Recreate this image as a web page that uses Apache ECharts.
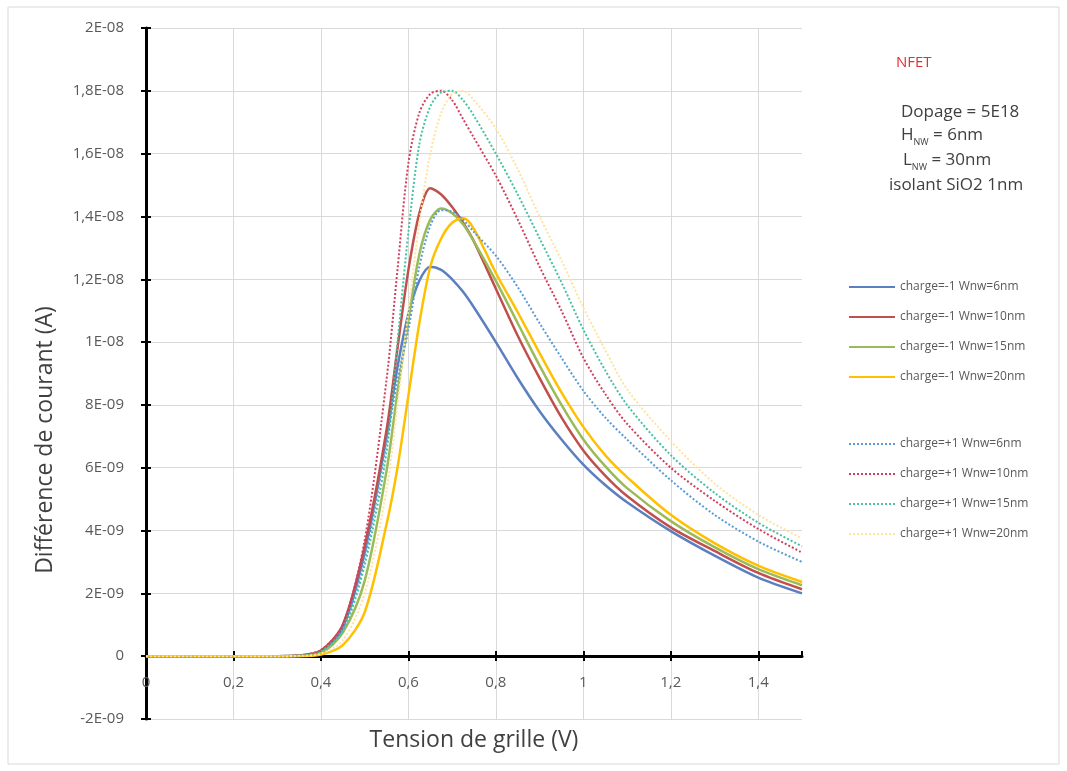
<!DOCTYPE html>
<html>
<head>
<meta charset="utf-8">
<script src="https://cdn.jsdelivr.net/npm/echarts@6/dist/echarts.min.js"></script>
<style>
html,body{margin:0;padding:0;background:#fff;}
#chart{width:1067px;height:771px;}
</style>
</head>
<body>
<div id="chart"></div>
<script>
// Gate voltage (V)
const xVals = [0, 0.1, 0.2, 0.3, 0.35, 0.4, 0.45, 0.5, 0.55, 0.575, 0.6, 0.625, 0.65, 0.675, 0.7, 0.725, 0.75, 0.8, 0.85, 0.9, 0.95, 1.0, 1.05, 1.1, 1.2, 1.3, 1.4, 1.5];
// Current difference, in units of 1E-09 A
const negW6  = [0, 0, 0, 0, 0.02, 0.15, 0.9, 3.3, 7.0, 9.2, 10.9, 11.95, 12.4, 12.3, 12.0, 11.6, 11.1, 10.0, 8.85, 7.8, 6.9, 6.1, 5.45, 4.9, 3.98, 3.2, 2.5, 2.0];
const negW10 = [0, 0, 0, 0, 0.02, 0.18, 1.0, 3.5, 7.2, 9.8, 12.3, 14.1, 14.9, 14.7, 14.3, 13.8, 13.2, 11.7, 10.2, 8.85, 7.6, 6.55, 5.75, 5.1, 4.1, 3.35, 2.65, 2.13];
const negW15 = [0, 0, 0, 0, 0.01, 0.1, 0.75, 2.4, 5.9, 8.4, 10.7, 12.8, 13.9, 14.25, 14.1, 13.75, 13.2, 11.95, 10.6, 9.25, 8.0, 6.9, 6.05, 5.35, 4.3, 3.47, 2.77, 2.26];
const negW20 = [0, 0, 0, 0, 0, 0.05, 0.35, 1.4, 4.2, 6.0, 8.3, 10.6, 12.4, 13.3, 13.8, 13.95, 13.6, 12.2, 10.95, 9.65, 8.4, 7.3, 6.4, 5.7, 4.5, 3.6, 2.88, 2.36];
const posW6  = [0, 0, 0, 0, 0.02, 0.15, 0.9, 3.1, 6.8, 8.8, 10.4, 12.4, 13.7, 14.2, 14.15, 13.9, 13.5, 12.75, 11.75, 10.6, 9.5, 8.45, 7.6, 6.9, 5.6, 4.5, 3.65, 3.0];
const posW10 = [0, 0, 0, 0, 0.03, 0.2, 1.0, 3.7, 8.8, 12.3, 15.7, 17.3, 17.9, 18.0, 17.7, 17.1, 16.5, 15.3, 13.9, 12.4, 11.0, 9.5, 8.35, 7.4, 6.0, 4.95, 4.05, 3.3];
const posW15 = [0, 0, 0, 0, 0.02, 0.15, 0.8, 2.9, 6.5, 10.0, 13.5, 16.3, 17.5, 17.95, 18.0, 17.7, 17.2, 16.0, 14.7, 13.3, 11.9, 10.4, 9.1, 8.0, 6.4, 5.2, 4.25, 3.5];
const posW20 = [0, 0, 0, 0, 0.01, 0.08, 0.5, 2.0, 5.3, 8.0, 11.0, 13.8, 16.0, 17.3, 17.9, 18.0, 17.7, 16.8, 15.5, 14.0, 12.6, 11.1, 9.75, 8.5, 6.85, 5.5, 4.5, 3.75];

const seriesNames = ['charge=-1 Wnw=6nm','charge=-1 Wnw=10nm','charge=-1 Wnw=15nm','charge=-1 Wnw=20nm',
                     'charge=+1 Wnw=6nm','charge=+1 Wnw=10nm','charge=+1 Wnw=15nm','charge=+1 Wnw=20nm'];
const seriesData = [negW6, negW10, negW15, negW20, posW6, posW10, posW15, posW20];
const colors = ['#5B7FBF','#C0504D','#9BBB59','#FFC000','#5B9BD5','#D0405E','#45C29F','#FFE3A0'];
const xTitle = 'Tension de grille (V)';
const yTitle = 'Différence de courant (A)';

function yFmt(v){
  if (Math.abs(v) < 1e-12) return '0';
  const e = Math.floor(Math.log10(Math.abs(v)) + 1e-9);
  let m = Math.round(v / Math.pow(10, e) * 10) / 10;
  const exp = e - 9;
  const es = (exp < 0 ? '-' : '+') + String(Math.abs(exp)).padStart(2, '0');
  return String(m).replace('.', ',') + 'E' + es;
}
function xFmt(v){
  return String(+v.toFixed(1)).replace('.', ',');
}

const chart = echarts.init(document.getElementById('chart'), null, {renderer: 'canvas'});
const series = seriesData.map((d, i) => ({
  name: seriesNames[i],
  type: 'line',
  xAxisIndex: 0, yAxisIndex: 0,
  data: xVals.map((x, k) => [x, d[k]]),
  smooth: 0.3,
  symbol: 'none',
  z: 2 + i,
  lineStyle: {color: colors[i], width: i < 4 ? 2.5 : 2, type: i < 4 ? 'solid' : 'dotted'},
  itemStyle: {color: colors[i]}
}));

const labelFont = {color: '#595959', fontSize: 15, fontFamily: 'Open Sans'};
const legendText = {color: '#595959', fontSize: 12, fontFamily: 'Open Sans'};
const X_MIN = 0, X_MAX = 1.5, X_INT = 0.2, Y_MIN = -2, Y_MAX = 20, Y_INT = 2;

chart.setOption({
  animation: false,
  backgroundColor: '#fff',
  grid: [
    {left: 146, right: 265, top: 28, bottom: 52, containLabel: false, outerBoundsMode: 'none'},
    {left: 146, right: 265, top: 28, bottom: 115, containLabel: false, outerBoundsMode: 'none'}
  ],
  xAxis: [{
    gridIndex: 0, type: 'value', min: X_MIN, max: X_MAX, interval: X_INT,
    axisLine: {show: false, onZero: false}, axisTick: {show: false}, axisLabel: {show: false},
    splitLine: {show: true, showMaxLine: false, lineStyle: {color: '#D9D9D9', width: 1}}
  },{
    gridIndex: 1, type: 'value', min: X_MIN, max: X_MAX, interval: X_INT, position: 'bottom',
    name: xTitle, nameLocation: 'middle', nameGap: 73,
    nameTextStyle: {color: '#404040', fontSize: 23, fontFamily: 'Open Sans'},
    axisLine: {show: true, onZero: false, lineStyle: {color: '#000', width: 3}},
    axisTick: {show: true, length: 5, lineStyle: {color: '#000', width: 2}},
    axisLabel: Object.assign({formatter: xFmt, margin: 19, showMaxLabel: false}, labelFont),
    splitLine: {show: false}
  },{
    gridIndex: 1, type: 'value', min: X_MIN, max: X_MAX, interval: X_INT, position: 'bottom',
    axisLine: {show: false, onZero: false},
    axisTick: {show: true, inside: true, length: 5, lineStyle: {color: '#000', width: 2}},
    axisLabel: {show: false}, splitLine: {show: false}
  }],
  yAxis: [{
    gridIndex: 0, type: 'value', min: Y_MIN, max: Y_MAX, interval: Y_INT,
    axisLine: {show: true, onZero: false, lineStyle: {color: '#000', width: 3}},
    axisTick: {show: true, length: 5, lineStyle: {color: '#000', width: 2}},
    axisLabel: Object.assign({formatter: yFmt, margin: 22}, labelFont),
    splitLine: {show: true, lineStyle: {color: '#D9D9D9', width: 1}}
  },{
    gridIndex: 0, type: 'value', min: Y_MIN, max: Y_MAX, interval: Y_INT, position: 'left',
    axisLine: {show: false, onZero: false},
    axisTick: {show: true, inside: true, length: 5, lineStyle: {color: '#000', width: 2}},
    axisLabel: {show: false}, splitLine: {show: false}
  },{
    gridIndex: 1, type: 'value', min: 0, max: Y_MAX, show: false
  }],
  legend: [{
    orient: 'vertical', left: 843, top: 276, itemWidth: 46, itemHeight: 14, itemGap: 18,
    data: seriesNames.slice(0, 4), textStyle: legendText,
    itemStyle: {opacity: 0}, selectedMode: false
  },{
    orient: 'vertical', left: 843, top: 433, itemWidth: 46, itemHeight: 14, itemGap: 18,
    data: seriesNames.slice(4), textStyle: legendText,
    itemStyle: {opacity: 0}, selectedMode: false
  }],
  graphic: [
    {type: 'rect', shape: {x: 8, y: 7, width: 1051, height: 757}, style: {fill: 'none', stroke: '#D9D9D9', lineWidth: 1}, silent: true, z: -10},
    {type: 'text', x: 45, y: 440, rotation: Math.PI / 2,
     style: {text: yTitle, fill: '#404040', fontSize: 23, fontFamily: 'Open Sans', align: 'center', verticalAlign: 'middle'}},
    {type: 'text', left: 896, top: 55, style: {text: 'NFET', fill: '#E03030', fontSize: 15, fontFamily: 'Open Sans'}},
    {type: 'text', left: 901, top: 104, style: {text: 'Dopage = 5E18', fill: '#404040', fontSize: 17, fontFamily: 'Open Sans'}},
    {type: 'text', left: 901, top: 127, style: {
      text: '{m|H}{s|NW}{m| = 6nm}', fill: '#404040', fontFamily: 'Open Sans',
      rich: {m: {fontSize: 17, fontFamily: 'Open Sans', fill: '#404040', verticalAlign: 'top', lineHeight: 23},
             s: {fontSize: 9, fontFamily: 'Open Sans', fill: '#404040', verticalAlign: 'top', padding: [11,0,0,0], lineHeight: 23}}}},
    {type: 'text', left: 903, top: 152, style: {
      text: '{m|L}{s|NW}{m| = 30nm}', fill: '#404040', fontFamily: 'Open Sans',
      rich: {m: {fontSize: 17, fontFamily: 'Open Sans', fill: '#404040', verticalAlign: 'top', lineHeight: 23},
             s: {fontSize: 9, fontFamily: 'Open Sans', fill: '#404040', verticalAlign: 'top', padding: [11,0,0,0], lineHeight: 23}}}},
    {type: 'text', left: 889, top: 177, style: {text: 'isolant SiO2 1nm', fill: '#404040', fontSize: 17, fontFamily: 'Open Sans'}}
  ],
  series: series
});
</script>
</body>
</html>
